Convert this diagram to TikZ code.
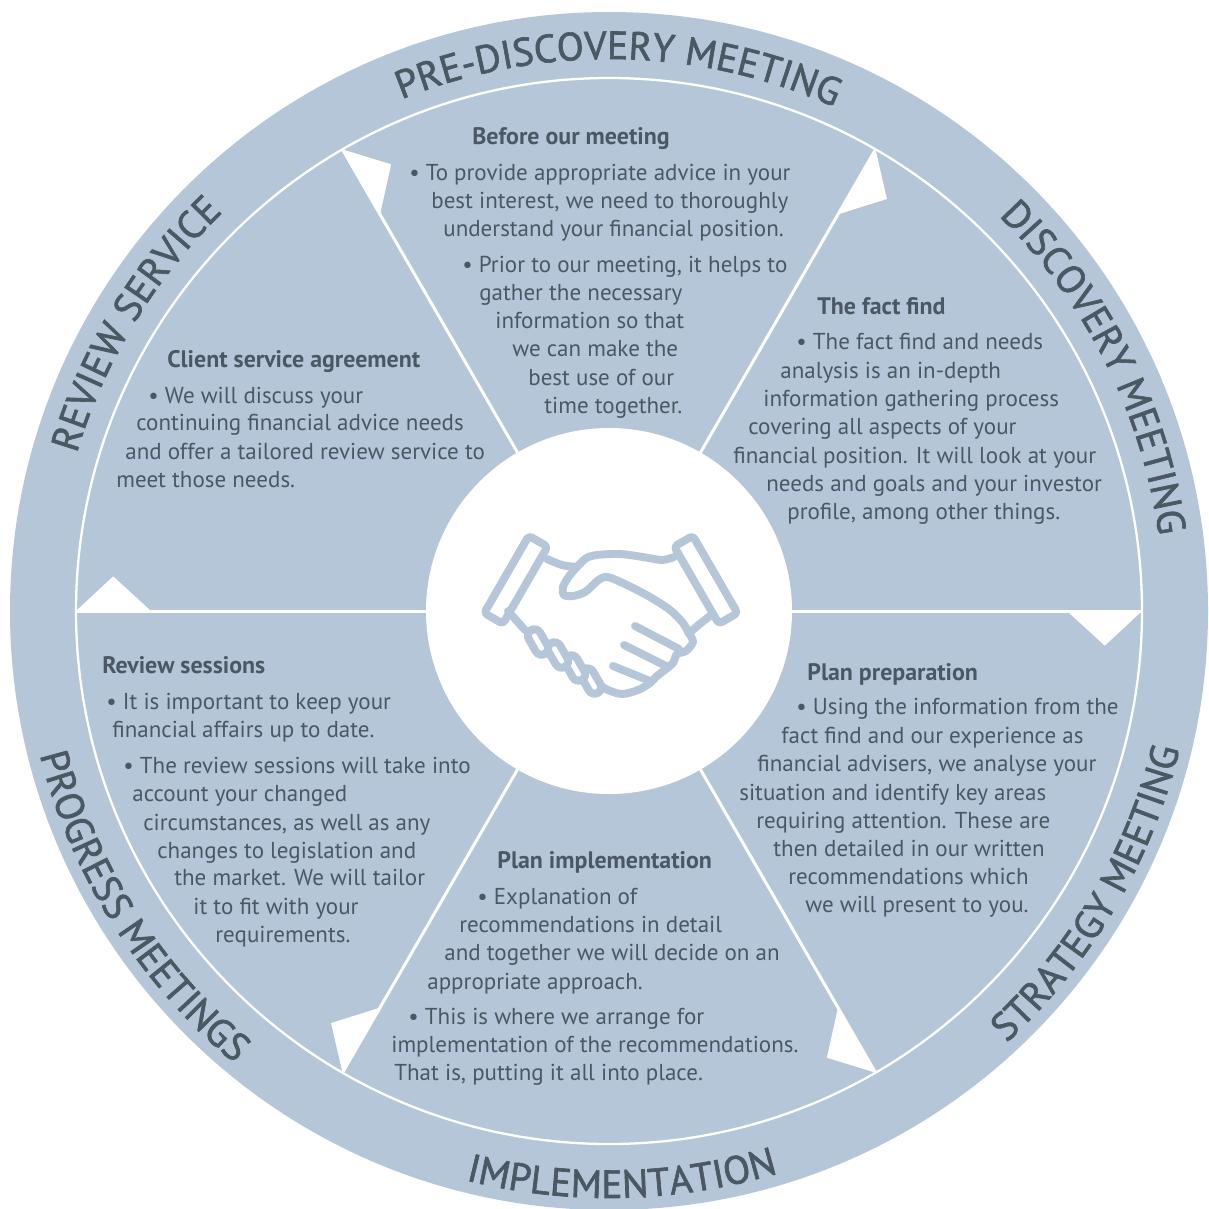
\documentclass[tikz,border=0pt]{standalone}
\usepackage{fontspec}
\setmainfont{PT Sans}
\newfontfamily\ringfam[FakeBold=1.6]{PT Sans}
\usetikzlibrary{decorations.text}
\definecolor{ringblue}{RGB}{181,198,216}
\definecolor{slate}{RGB}{74,88,99}
\newcommand{\ringfont}{\ringfam\fontsize{22.4}{22}\selectfont}

\begin{document}
\begin{tikzpicture}[x=0.02cm, y=-0.02cm,
    body/.style={anchor=base west, inner sep=0pt, text=slate, font=\fontsize{13.1}{15}\selectfont},
    head/.style={body, font=\fontsize{13.6}{15}\selectfont\bfseries},
    hand/.style={draw=ringblue, line width=4.5pt, line cap=round, line join=round},
    spoke/.style={white, line width=1.7pt},
    ringlabel/.style={decorate, decoration={text along path, text align=center, text color=slate, text={|\ringfont|#1}}}]

  \useasboundingbox (0,0) rectangle (1209,1208);
  \fill[white] (0,0) rectangle (1209,1208);

  \begin{scope}[shift={(609,611)}, y=0.02cm]
    \fill[ringblue] (0,0) circle[radius=599];
    \draw[white, line width=1.3pt] (0,0) circle[radius=533];
    \foreach \a in {0,60,...,300} {
      \draw[spoke] (\a:183) -- (\a:533);
      \fill[white] (\a:533) -- (\a:458) -- ({\a-4}:497) -- cycle;
    }
    \fill[white] (0,0) circle[radius=183];

    \path[ringlabel={PRE-DISCOVERY MEETING}] (129:552) arc[start angle=129, end angle=49, radius=552];
    \path[ringlabel={DISCOVERY MEETING}] (66.6:555) arc[start angle=66.6, end angle=-13.4, radius=555];
    \path[ringlabel={REVIEW SERVICE}] (188.8:555) arc[start angle=188.8, end angle=108.8, radius=555];
    \path[ringlabel={STRATEGY MEETING}] (-70.5:587) arc[start angle=-70.5, end angle=9.5, radius=587];
    \path[ringlabel={IMPLEMENTATION}] (-128.7:587) arc[start angle=-128.7, end angle=-48.7, radius=587];
    \path[ringlabel={PROGRESS MEETINGS}] (-187.7:587) arc[start angle=-187.7, end angle=-107.7, radius=587];
  \end{scope}

  % handshake
  \draw[hand, rounded corners=2pt] (528.8,535.8) -- (547.5,546.6) -- (502.9,623.8) -- (484.2,613) -- cycle;
  \draw[hand, rounded corners=2pt] (692.8,535.8) -- (674.2,546.6) -- (718.8,623.8) -- (737.5,613) -- cycle;
  \draw[hand] plot[smooth] coordinates {(547,559) (562,565) (577,567)};
  \draw[hand] plot[smooth, tension=0.5] coordinates {(674,557) (662,560) (643,557) (620,554) (597,555) (585,559) (570,575) (563,587) (564,595) (573,596) (585,592) (595,583) (600,579) (608,577) (627,585) (650,597) (670,610) (683,623) (689,634)};
  \draw[hand] plot[smooth, tension=0.5] coordinates {(710,616) (691,632) (693,642) (686,651) (677,654) (673,663) (666,669) (657,676) (650,683) (638,690) (622,694) (608,690) (598,684)};
  \draw[hand] (635,626) -- (679,649);
  \draw[hand] (624,645) -- (668,667);
  \draw[hand] (613,666) -- (650,681);
  \draw[hand] (508,611) -- (525,630);
  \foreach \fx/\fy in {591/681, 575/668, 558/655, 538/642} {
    \draw[ringblue, line width=12pt, line cap=round] (\fx-3.6,\fy-6.2) -- (\fx+3.6,\fy+6.2);
    \draw[white, line width=2.8pt, line cap=round] (\fx-3.6,\fy-6.2) -- (\fx+3.6,\fy+6.2);
  }

  % pre-discovery meeting
  \node[head] (prehead) at (472,144) {Before our meeting};
  \foreach \x/\y/\t [count=\i] in {409/180/{• To provide appropriate advice in your},
      431/208/{best interest, we need to thoroughly}, 443/236/{understand your financial position.},
      462/272/{• Prior to our meeting, it helps to}, 479/300/{gather the necessary},
      495/328/{information so that}, 512/356/{we can make the}, 528/385/{best use of our},
      544/413/{time together.}}
    \node[body] (pre\i) at (\x,\y) {\t};

  % discovery meeting
  \node[head] (dischead) at (817,314) {The fact find};
  \foreach \x/\y/\t [count=\i] in {796/349/{• The fact find and needs},
      780/378/{analysis is an in-depth}, 763/406/{information gathering process},
      748/434/{covering all aspects of your}, 733/463/{financial position. It will look at your},
      766/491/{needs and goals and your investor}, 787/519/{profile, among other things.}}
    \node[body] (disc\i) at (\x,\y) {\t};

  % strategy meeting
  \node[head] (strathead) at (807,680) {Plan preparation};
  \foreach \x/\y/\t [count=\i] in {796/714/{• Using the information from the},
      781/743/{fact find and our experience as}, 757/771/{financial advisers, we analyse your},
      739/800/{situation and identify key areas}, 756/828/{requiring attention. These are},
      773/856/{then detailed in our written}, 788/884/{recommendations which},
      805/912/{we will present to you.}}
    \node[body] (strat\i) at (\x,\y) {\t};

  % implementation
  \node[head] (implhead) at (497,868) {Plan implementation};
  \foreach \x/\y/\t [count=\i] in {477/904/{• Explanation of},
      459/932/{recommendations in detail}, 444/960/{and together we will decide on an},
      427/989/{appropriate approach.}, 408/1024/{• This is where we arrange for},
      391/1052/{implementation of the recommendations.}, 394/1080/{That is, putting it all into place.}}
    \node[body] (impl\i) at (\x,\y) {\t};

  % progress meetings
  \node[head] (proghead) at (102,673) {Review sessions};
  \foreach \x/\y/\t [count=\i] in {106/709/{• It is important to keep your},
      112/737/{financial affairs up to date.}, 123/773/{• The review sessions will take into},
      132/801/{account your changed}, 143/830/{circumstances, as well as any},
      157/858/{changes to legislation and}, 174/885/{the market. We will tailor},
      193/914/{it to fit with your}, 215/942/{requirements.}}
    \node[body] (prog\i) at (\x,\y) {\t};

  % review service
  \node[head] (revhead) at (167,367) {Client service agreement};
  \foreach \x/\y/\t [count=\i] in {148/403/{• We will discuss your},
      136/430/{continuing financial advice needs}, 125/459/{and offer a tailored review service to},
      116/487/{meet those needs.}}
    \node[body] (rev\i) at (\x,\y) {\t};
\end{tikzpicture}
\end{document}
